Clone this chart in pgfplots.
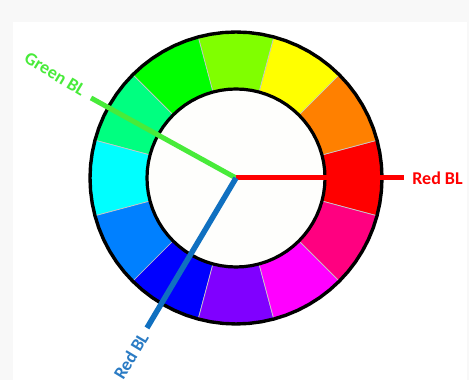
\documentclass[border=0pt]{standalone}
\usepackage{pgfplots}
\pgfplotsset{compat=1.18}
\usepgfplotslibrary{polar}
\usepackage{fontspec}
\setmainfont{Carlito}
\definecolor{bggray}{HTML}{F8F8F8}
\definecolor{sepgray}{HTML}{C8C8C8}
\definecolor{innerw}{HTML}{FEFEFC}
\definecolor{greenbl}{HTML}{48EB3A}
\definecolor{bluebl}{HTML}{1070C0}
\definecolor{bluetxt}{HTML}{2A7BC4}
\definecolor{redbl}{HTML}{FF0000}
\definecolor{cRed}{HTML}{FF0000}
\definecolor{cOrange}{HTML}{FF8000}
\definecolor{cYellow}{HTML}{FFFF00}
\definecolor{cChart}{HTML}{80FF00}
\definecolor{cGreen}{HTML}{00FF00}
\definecolor{cSpring}{HTML}{00FF80}
\definecolor{cCyan}{HTML}{00FFFF}
\definecolor{cAzure}{HTML}{0080FF}
\definecolor{cBlue}{HTML}{0000FF}
\definecolor{cViolet}{HTML}{8000FF}
\definecolor{cMagenta}{HTML}{FF00FF}
\definecolor{cRose}{HTML}{FF0080}
\begin{document}
\begin{tikzpicture}
\begin{axis}[
  width=469pt, height=380pt, scale only axis,
  xmin=-236, xmax=233, ymin=-202, ymax=178,
  hide axis, clip=false,
]
% background
\addplot[fill=bggray, draw=none] coordinates {(-236,-202)(233,-202)(233,178)(-236,178)} -- cycle;
\addplot[fill=white, draw=none] coordinates {(-223,-202)(231,-202)(231,156)(-223,156)} -- cycle;
% wedges (angle, radius)
\addplot[fill=cRed, draw=sepgray, line width=0.7pt, data cs=polar] coordinates {(-15,146)(-7.5,146)(0,146)(7.5,146)(15,146)(15,89)(7.5,89)(0,89)(-7.5,89)(-15,89)} -- cycle;
\addplot[fill=cOrange, draw=sepgray, line width=0.7pt, data cs=polar] coordinates {(15,146)(22.5,146)(30,146)(37.5,146)(45,146)(45,89)(37.5,89)(30,89)(22.5,89)(15,89)} -- cycle;
\addplot[fill=cYellow, draw=sepgray, line width=0.7pt, data cs=polar] coordinates {(45,146)(52.5,146)(60,146)(67.5,146)(75,146)(75,89)(67.5,89)(60,89)(52.5,89)(45,89)} -- cycle;
\addplot[fill=cChart, draw=sepgray, line width=0.7pt, data cs=polar] coordinates {(75,146)(82.5,146)(90,146)(97.5,146)(105,146)(105,89)(97.5,89)(90,89)(82.5,89)(75,89)} -- cycle;
\addplot[fill=cGreen, draw=sepgray, line width=0.7pt, data cs=polar] coordinates {(105,146)(112.5,146)(120,146)(127.5,146)(135,146)(135,89)(127.5,89)(120,89)(112.5,89)(105,89)} -- cycle;
\addplot[fill=cSpring, draw=sepgray, line width=0.7pt, data cs=polar] coordinates {(135,146)(142.5,146)(150,146)(157.5,146)(165,146)(165,89)(157.5,89)(150,89)(142.5,89)(135,89)} -- cycle;
\addplot[fill=cCyan, draw=sepgray, line width=0.7pt, data cs=polar] coordinates {(165,146)(172.5,146)(180,146)(187.5,146)(195,146)(195,89)(187.5,89)(180,89)(172.5,89)(165,89)} -- cycle;
\addplot[fill=cAzure, draw=sepgray, line width=0.7pt, data cs=polar] coordinates {(195,146)(202.5,146)(210,146)(217.5,146)(225,146)(225,89)(217.5,89)(210,89)(202.5,89)(195,89)} -- cycle;
\addplot[fill=cBlue, draw=sepgray, line width=0.7pt, data cs=polar] coordinates {(225,146)(232.5,146)(240,146)(247.5,146)(255,146)(255,89)(247.5,89)(240,89)(232.5,89)(225,89)} -- cycle;
\addplot[fill=cViolet, draw=sepgray, line width=0.7pt, data cs=polar] coordinates {(255,146)(262.5,146)(270,146)(277.5,146)(285,146)(285,89)(277.5,89)(270,89)(262.5,89)(255,89)} -- cycle;
\addplot[fill=cMagenta, draw=sepgray, line width=0.7pt, data cs=polar] coordinates {(285,146)(292.5,146)(300,146)(307.5,146)(315,146)(315,89)(307.5,89)(300,89)(292.5,89)(285,89)} -- cycle;
\addplot[fill=cRose, draw=sepgray, line width=0.7pt, data cs=polar] coordinates {(315,146)(322.5,146)(330,146)(337.5,146)(345,146)(345,89)(337.5,89)(330,89)(322.5,89)(315,89)} -- cycle;
% inner disk
\addplot[fill=innerw, draw=black, line width=3.2pt, data cs=polar] coordinates {(0,89)(5,89)(10,89)(15,89)(20,89)(25,89)(30,89)(35,89)(40,89)(45,89)(50,89)(55,89)(60,89)(65,89)(70,89)(75,89)(80,89)(85,89)(90,89)(95,89)(100,89)(105,89)(110,89)(115,89)(120,89)(125,89)(130,89)(135,89)(140,89)(145,89)(150,89)(155,89)(160,89)(165,89)(170,89)(175,89)(180,89)(185,89)(190,89)(195,89)(200,89)(205,89)(210,89)(215,89)(220,89)(225,89)(230,89)(235,89)(240,89)(245,89)(250,89)(255,89)(260,89)(265,89)(270,89)(275,89)(280,89)(285,89)(290,89)(295,89)(300,89)(305,89)(310,89)(315,89)(320,89)(325,89)(330,89)(335,89)(340,89)(345,89)(350,89)(355,89)} -- cycle;
% outer ring outline
\addplot[draw=black, line width=3.4pt, data cs=polar] coordinates {(0,146)(5,146)(10,146)(15,146)(20,146)(25,146)(30,146)(35,146)(40,146)(45,146)(50,146)(55,146)(60,146)(65,146)(70,146)(75,146)(80,146)(85,146)(90,146)(95,146)(100,146)(105,146)(110,146)(115,146)(120,146)(125,146)(130,146)(135,146)(140,146)(145,146)(150,146)(155,146)(160,146)(165,146)(170,146)(175,146)(180,146)(185,146)(190,146)(195,146)(200,146)(205,146)(210,146)(215,146)(220,146)(225,146)(230,146)(235,146)(240,146)(245,146)(250,146)(255,146)(260,146)(265,146)(270,146)(275,146)(280,146)(285,146)(290,146)(295,146)(300,146)(305,146)(310,146)(315,146)(320,146)(325,146)(330,146)(335,146)(340,146)(345,146)(350,146)(355,146)} -- cycle;
% lines
\addplot[draw=greenbl, line width=5pt, data cs=polar] coordinates {(151.1,0)(151.1,165.6)};
\addplot[draw=redbl, line width=5pt, data cs=polar] coordinates {(0,0)(0,168)};
\addplot[draw=bluebl, line width=5.5pt, data cs=polar] coordinates {(239.3,0)(239.3,174.4)};
% labels
\node[text=redbl, font=\bfseries\fontsize{18}{20}\selectfont] at (axis cs:201.5,0) {Red BL};
\node[text=greenbl, rotate=-31, font=\bfseries\fontsize{18}{20}\selectfont] at (axis cs:-181,104) {Green BL};
\node[text=bluetxt, rotate=59, font=\bfseries\fontsize{18}{20}\selectfont] at (axis cs:-105,-178) {Red BL};
\end{axis}
\end{tikzpicture}
\end{document}
